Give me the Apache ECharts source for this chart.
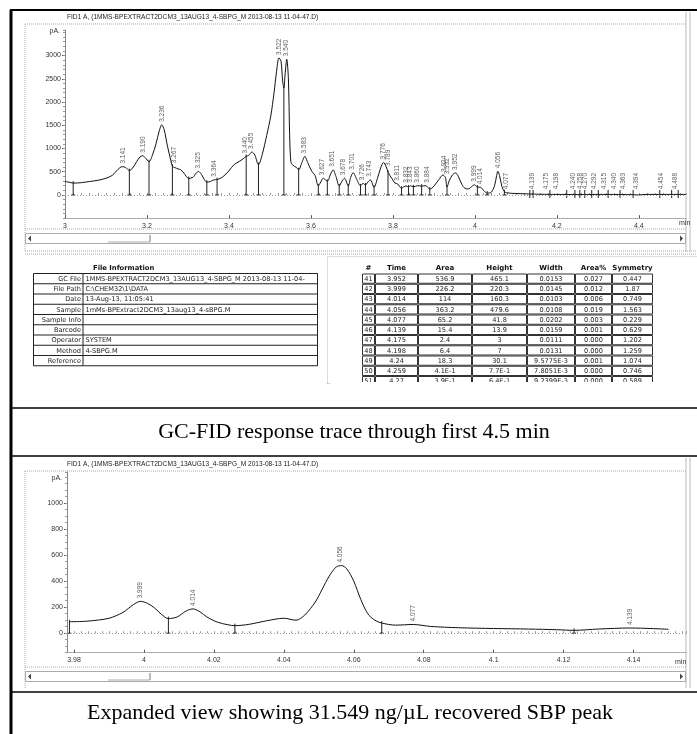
<!DOCTYPE html>
<html><head><meta charset="utf-8">
<script src="https://cdn.jsdelivr.net/npm/echarts@6/dist/echarts.min.js"></script>
<style>html,body{margin:0;padding:0;background:#fff}#c{width:697px;height:734px}</style>
</head><body><div id="c"></div>
<script>
// ---------------- DATA ----------------
const chartTitle = 'FID1 A, (1MMS-BPEXTRACT2DCM3_13AUG13_4-SBPG_M 2013-08-13 11-04-47.D)';
const caption1 = 'GC-FID response trace through first 4.5 min';
const caption2 = 'Expanded view showing 31.549 ng/\u00B5L recovered SBP peak';

// top trace (min, pA)
const topTime = [3.000,3.010,3.020,3.040,3.060,3.080,3.100,3.115,3.125,3.133,3.140,3.148,3.157,3.165,3.175,3.183,3.189,3.196,3.205,3.213,3.222,3.230,3.236,3.242,3.250,3.258,3.262,3.268,3.276,3.282,3.290,3.302,3.312,3.320,3.326,3.333,3.340,3.346,3.355,3.363,3.371,3.385,3.400,3.412,3.425,3.435,3.442,3.448,3.456,3.463,3.472,3.482,3.492,3.502,3.510,3.516,3.522,3.527,3.531,3.534,3.537,3.541,3.545,3.548,3.551,3.556,3.565,3.570,3.578,3.585,3.592,3.602,3.610,3.618,3.624,3.630,3.636,3.640,3.648,3.654,3.661,3.669,3.676,3.682,3.691,3.697,3.703,3.712,3.721,3.727,3.733,3.740,3.745,3.754,3.762,3.770,3.777,3.784,3.788,3.797,3.805,3.811,3.821,3.827,3.832,3.838,3.843,3.850,3.860,3.870,3.880,3.890,3.900,3.912,3.922,3.928,3.932,3.938,3.946,3.953,3.960,3.968,3.976,3.984,3.992,3.999,4.006,4.014,4.022,4.030,4.040,4.048,4.053,4.056,4.060,4.066,4.072,4.077,4.090,4.110,4.130,4.160,4.200,4.250,4.300,4.350,4.390,4.400,4.420,4.460,4.515];
const topPA   = [290,275,255,265,290,315,360,420,510,580,610,590,525,580,720,820,845,800,715,850,1100,1380,1510,1400,1050,750,620,590,560,545,470,355,380,470,505,440,330,275,290,325,330,390,520,650,720,780,830,850,925,860,650,900,1280,1700,2200,2650,2950,2880,2450,2300,2600,2920,2500,1300,720,640,590,540,700,830,700,510,420,195,280,360,320,295,450,540,400,195,300,360,195,380,480,330,195,250,215,290,325,165,350,580,700,600,490,360,255,240,145,180,195,170,200,175,200,190,200,125,190,330,430,380,170,320,440,475,390,230,140,130,180,220,170,165,90,40,60,200,420,510,420,180,70,50,35,28,22,15,12,10,12,10,5,0,12,12,12];

// drop lines (boundaries) top
const topDropTime = [3.020,3.157,3.205,3.262,3.302,3.346,3.371,3.442,3.472,3.534,3.570,3.618,3.640,3.669,3.691,3.721,3.733,3.754,3.788,3.821,3.838,3.850,3.870,3.890,3.932,4.006,4.030,4.072];
const topDropPA   = [255,525,715,620,355,275,330,830,650,2300,540,195,295,195,195,195,215,165,490,145,170,175,190,125,170,170,40,70];
// small boundary ticks near baseline (late peaks)
const topTickTime = [4.134,4.142,4.183,4.224,4.244,4.256,4.268,4.285,4.301,4.325,4.354,4.386,4.451,4.480,4.496];

// peak labels top
const topPeakLabel = ['3.141','3.190','3.236','3.267','3.325','3.364','3.440','3.455','3.522','3.540','3.583','3.627','3.651','3.678','3.701','3.726','3.743','3.776','3.789','3.811','3.832','3.843','3.860','3.884','3.924','3.932','3.952','3.999','4.014','4.056','4.077','4.139','4.175','4.198','4.240','4.258','4.270','4.292','4.315','4.340','4.363','4.394','4.454','4.488'];
const topPeakTime  = [3.141,3.190,3.236,3.267,3.325,3.364,3.440,3.455,3.522,3.540,3.583,3.627,3.651,3.678,3.701,3.726,3.743,3.776,3.789,3.811,3.832,3.843,3.860,3.884,3.924,3.932,3.952,3.999,4.014,4.056,4.077,4.139,4.175,4.198,4.240,4.258,4.270,4.292,4.315,4.340,4.363,4.394,4.454,4.488];
const topPeakPA    = [610,845,1510,620,505,330,830,925,2950,2920,830,360,540,360,480,250,325,700,560,240,200,200,200,200,430,380,475,220,165,510,60,60,60,60,60,60,60,60,60,60,60,60,60,60];

// bottom (expanded) trace
const botTime = [3.9787,3.984,3.990,3.994,3.997,3.999,4.001,4.003,4.005,4.007,4.0095,4.012,4.014,4.016,4.018,4.021,4.024,4.026,4.030,4.035,4.040,4.0435,4.046,4.049,4.051,4.053,4.055,4.0565,4.058,4.060,4.062,4.064,4.066,4.068,4.072,4.077,4.082,4.090,4.100,4.110,4.118,4.123,4.130,4.139,4.145,4.150];
const botPA   = [88,93,115,160,220,245,230,195,145,112,125,170,187,165,125,85,65,58,68,95,115,100,140,240,340,440,510,520,495,400,260,150,100,78,62,67,52,42,36,32,27,22,32,40,36,30];
const botDropTime = [3.9787,4.007,4.026,4.068,4.123];
const botDropPA   = [88,112,58,78,22];
const botPeakLabel = ['3.999','4.014','4.056','4.077','4.139'];
const botPeakTime  = [3.999,4.014,4.056,4.077,4.139];
const botPeakPA    = [245,187,520,67,40];

// axis tick labels
const topYTicks = [0,500,1000,1500,2000,2500,3000];
const topXTicks = [3,3.2,3.4,3.6,3.8,4,4.2,4.4];
const botYTicks = [0,200,400,600,800,1000];
const botXTicks = [3.98,4,4.02,4.04,4.06,4.08,4.1,4.12,4.14];

// file information table
const fileInfoLabels = ['GC File','File Path','Date','Sample','Sample Info','Barcode','Operator','Method','Reference'];
const fileInfoValues = ['1MMS-BPEXTRACT2DCM3_13AUG13_4-SBPG_M 2013-08-13 11-04-','C:\\CHEM32\\1\\DATA','13-Aug-13, 11:05:41','1mMs-BPExtract2DCM3_13aug13_4-sBPG.M','','','SYSTEM','4-SBPG.M',''];

// peak table
const peakHeaders = ['#','Time','Area','Height','Width','Area%','Symmetry'];
const peakNo      = ['41','42','43','44','45','46','47','48','49','50','51'];
const peakTime    = ['3.952','3.999','4.014','4.056','4.077','4.139','4.175','4.198','4.24','4.259','4.27'];
const peakArea    = ['536.9','226.2','114','363.2','65.2','15.4','2.4','6.4','18.3','4.1E-1','3.9E-1'];
const peakHeight  = ['465.1','220.3','160.3','479.6','41.8','13.9','3','7','30.1','7.7E-1','6.4E-1'];
const peakWidth   = ['0.0153','0.0145','0.0103','0.0108','0.0202','0.0159','0.0111','0.0131','9.5775E-3','7.8051E-3','9.2399E-3'];
const peakAreaPct = ['0.027','0.012','0.006','0.019','0.003','0.001','0.000','0.000','0.001','0.000','0.000'];
const peakSym     = ['0.447','1.87','0.749','1.563','0.229','0.629','1.202','1.259','1.074','0.746','0.589'];

// ---------------- CHART ----------------
const FS = 'Liberation Sans';
const TF = '"DejaVu Sans"';
const AX = '#555';
const chart = echarts.init(document.getElementById('c'), null, {renderer:'canvas'});

function zip(a,b){return a.map((v,i)=>[v,b[i]]);}

function dropSeries(xi, yi, times, vals){
  return {type:'custom', xAxisIndex:xi, yAxisIndex:yi, silent:true, z:4,
    data: zip(times, vals),
    renderItem:(p, api)=>{
      const a = api.coord([api.value(0), api.value(1)]);
      const b = api.coord([api.value(0), 0]);
      return {type:'group', children:[
        {type:'line', shape:{x1:a[0],y1:a[1]-2,x2:b[0],y2:b[1]}, style:{stroke:'#222',lineWidth:1}},
        {type:'line', shape:{x1:b[0]-2,y1:b[1],x2:b[0]+2,y2:b[1]}, style:{stroke:'#222',lineWidth:1}}
      ]};
    }};
}
function tickSeries(xi, yi, times){
  return {type:'custom', xAxisIndex:xi, yAxisIndex:yi, silent:true, z:4,
    data: times.map(t=>[t]),
    renderItem:(p, api)=>{
      const b = api.coord([api.value(0), 0]);
      return {type:'line', shape:{x1:b[0],y1:b[1]-5,x2:b[0],y2:b[1]+3}, style:{stroke:'#222',lineWidth:1}};
    }};
}
function labelSeries(xi, yi, times, vals, labels){
  return {type:'scatter', xAxisIndex:xi, yAxisIndex:yi, silent:true, symbolSize:0, z:5,
    data: zip(times, vals),
    label:{show:true, formatter:p=>labels[p.dataIndex], rotate:90, position:'top', align:'left',
      verticalAlign:'middle', distance:3, fontSize:6.5, fontFamily:FS, color:'#333'}};
}
function traceSeries(xi, yi, times, vals){
  return {type:'line', xAxisIndex:xi, yAxisIndex:yi, silent:true, showSymbol:false, smooth:0.3, z:3,
    data: zip(times, vals), lineStyle:{color:'#111', width:1},
    markLine:{silent:true, symbol:'none', label:{show:false},
      lineStyle:{color:'#999', type:[1,2], width:1}, data:[{yAxis:0}]}};
}

function xMain(gi, min, max, ticks){
  return {type:'value', gridIndex:gi, min:min, max:max, position:'bottom',
    axisLine:{show:true, onZero:false, lineStyle:{color:'#999', type:[1,1], width:1}},
    axisTick:{show:true, customValues:ticks, length:3, inside:true, lineStyle:{color:AX}},
    axisLabel:{customValues:ticks, formatter:v=>String(+(+v).toFixed(2)), fontSize:7, fontFamily:FS, color:'#333', margin:4},
    splitLine:{show:false}};
}
function xMinor(gi, min, max, iv){
  return {type:'value', gridIndex:gi, min:min, max:max, interval:iv, position:'bottom',
    axisLine:{show:false}, axisLabel:{show:false}, splitLine:{show:false},
    axisTick:{show:true, length:2, inside:true, lineStyle:{color:'#999'}}};
}
function yMain(gi, min, max, ticks){
  return {type:'value', gridIndex:gi, min:min, max:max,
    axisLine:{show:true, onZero:false, lineStyle:{color:'#888', width:1}},
    axisTick:{show:true, customValues:ticks, length:3, lineStyle:{color:AX}},
    axisLabel:{customValues:ticks, formatter:v=>String(v), fontSize:7, fontFamily:FS, color:'#333', margin:4},
    splitLine:{show:false}};
}
function yMinor(gi, min, max, iv){
  return {type:'value', gridIndex:gi, min:min, max:max, interval:iv, position:'left',
    axisLine:{show:false}, axisLabel:{show:false}, splitLine:{show:false},
    axisTick:{show:true, length:2, lineStyle:{color:'#999'}}};
}

// ---------------- GRAPHIC (frames, tables, captions) ----------------
const G = [];
function hl(x1,x2,y,c,w,dash){G.push({type:'line',silent:true,shape:{x1:x1,y1:y,x2:x2,y2:y},style:{stroke:c,lineWidth:w,lineDash:dash||null}});}
function vl(x,y1,y2,c,w,dash){G.push({type:'line',silent:true,shape:{x1:x,y1:y1,x2:x,y2:y2},style:{stroke:c,lineWidth:w,lineDash:dash||null}});}
function tx(x,y,t,font,align,fill){G.push({type:'text',silent:true,x:x,y:y,style:{text:t,font:font,fill:fill||'#222',align:align||'left',verticalAlign:'middle'}});}
function rc(x,y,w,h,stroke,fill,dash){G.push({type:'rect',silent:true,shape:{x:x,y:y,width:w,height:h},style:{stroke:stroke,fill:fill||'none',lineWidth:1,lineDash:dash||null}});}
function tri(x,y,dir){G.push({type:'polygon',silent:true,shape:{points:dir<0?[[x+3,y-3],[x+3,y+3],[x,y]]:[[x,y-3],[x,y+3],[x+3,y]]},style:{fill:'#444'}});}

function chartWindow(top, bottom, titleY, axisLblBottom){
  tx(67, titleY, chartTitle, '6.6px '+FS, 'left', '#222');
  hl(25, 686, titleY+7, '#aaa', 1, [1,1]);
  vl(25, titleY+7, bottom, '#aaa', 1, [1,1]);
  vl(686, top, bottom, '#bbb', 1);
  vl(690, top, bottom, '#bbb', 1);
  hl(25, 686, axisLblBottom, '#aaa', 1, [1,1]);
  rc(25.5, axisLblBottom+4.5, 660, 10, '#aaa');
  tri(28, axisLblBottom+9.5, -1);
  tri(680, axisLblBottom+9.5, 1);
  vl(150, axisLblBottom+6, axisLblBottom+13, '#777', 1);
  hl(108, 150, axisLblBottom+13, '#aaa', 1);
}

// outer black section lines
hl(10, 697, 10, '#000', 2);
vl(11, 10, 734, '#000', 3);
hl(10, 697, 408, '#000', 1.5);
hl(10, 697, 456, '#000', 1.5);
hl(10, 697, 692, '#000', 1.5);

// top window
chartWindow(12, 252, 17, 229);
tx(60, 31, 'pA.', '7px '+FS, 'right', '#333');
tx(679, 223.5, 'min', '7px '+FS, 'left', '#333');
hl(25, 697, 251, '#aaa', 1, [1,1]);
hl(25, 697, 254, '#aaa', 1, [1,1]);

// File information table
const rowH = 10.25, tTop = 273.5;
G.push({type:'text',silent:true,x:93,y:268,style:{text:'File Information',font:'bold 6.8px '+TF,fill:'#111',verticalAlign:'middle'}});
rc(33.5, tTop, 284, rowH*fileInfoLabels.length, '#222');
vl(83, tTop, tTop+rowH*fileInfoLabels.length, '#222', 1);
fileInfoLabels.forEach((lab,i)=>{
  const y = tTop + rowH*i;
  if(i>0) hl(33.5, 317.5, y, '#222', 1);
  tx(81, y+rowH/2+0.5, lab, '6.6px '+TF, 'right', '#222');
  tx(85.5, y+rowH/2+0.5, fileInfoValues[i], '6.6px '+TF, 'left', '#222');
});

// right panel with peak table
rc(327.5, 256.5, 380, 127, '#bbb', 'none', [1,1]);
const colX = [362, 375, 418, 472, 527, 575, 612, 653];
const cols = [peakNo, peakTime, peakArea, peakHeight, peakWidth, peakAreaPct, peakSym];
peakHeaders.forEach((h,j)=>{
  tx((colX[j]+colX[j+1])/2, 268.5, h, 'bold 7px '+TF, 'center', '#111');
});
peakNo.forEach((n,i)=>{
  const y = tTop + rowH*i;
  cols.forEach((col,j)=>{
    rc(colX[j]+0.5, y+0.5, colX[j+1]-colX[j]-1, rowH-1, '#333');
    tx((colX[j]+colX[j+1])/2, y+rowH/2+0.5, col[i], '6.6px '+TF, 'center', '#222');
  });
});
// clip the last (partially visible) row
G.push({type:'rect',silent:true,z:100,shape:{x:330,y:382,width:367,height:24},style:{fill:'#fff'}});
hl(327, 697, 383.5, '#bbb', 1, [1,1]);

// caption 1
tx(354, 432, caption1, '22px "Liberation Serif"', 'center', '#000');

// bottom window
chartWindow(458, 688, 464, 667);
tx(62, 478, 'pA.', '7px '+FS, 'right', '#333');
tx(675, 662.5, 'min', '7px '+FS, 'left', '#333');

// caption 2
tx(350, 713, caption2, '22px "Liberation Serif"', 'center', '#000');

// ---------------- OPTION ----------------
const option = {
  animation:false,
  backgroundColor:'#fff',
  grid:[
    {left:65, top:30, width:621, height:188.2},
    {left:67, top:472, width:619, height:180.7}
  ],
  xAxis:[
    xMain(0, 3, 4.515, topXTicks),
    xMinor(0, 3, 4.515, 0.02),
    xMain(1, 3.978, 4.155, botXTicks),
    xMinor(1, 3.978, 4.155, 0.002)
  ],
  yAxis:[
    yMain(0, -500, 3550, topYTicks),
    yMinor(0, -500, 3550, 100),
    yMain(1, -150, 1240, botYTicks),
    yMinor(1, -150, 1240, 50)
  ],
  series:[
    traceSeries(0, 0, topTime, topPA),
    dropSeries(0, 0, topDropTime, topDropPA),
    tickSeries(0, 0, topTickTime),
    labelSeries(0, 0, topPeakTime, topPeakPA, topPeakLabel),
    {type:'line', xAxisIndex:1, yAxisIndex:1, data:[], silent:true},
    traceSeries(2, 2, botTime, botPA),
    dropSeries(2, 2, botDropTime, botDropPA),
    labelSeries(2, 2, botPeakTime, botPeakPA, botPeakLabel),
    {type:'line', xAxisIndex:3, yAxisIndex:3, data:[], silent:true}
  ],
  graphic:{elements:G}
};
chart.setOption(option);
</script></body></html>
